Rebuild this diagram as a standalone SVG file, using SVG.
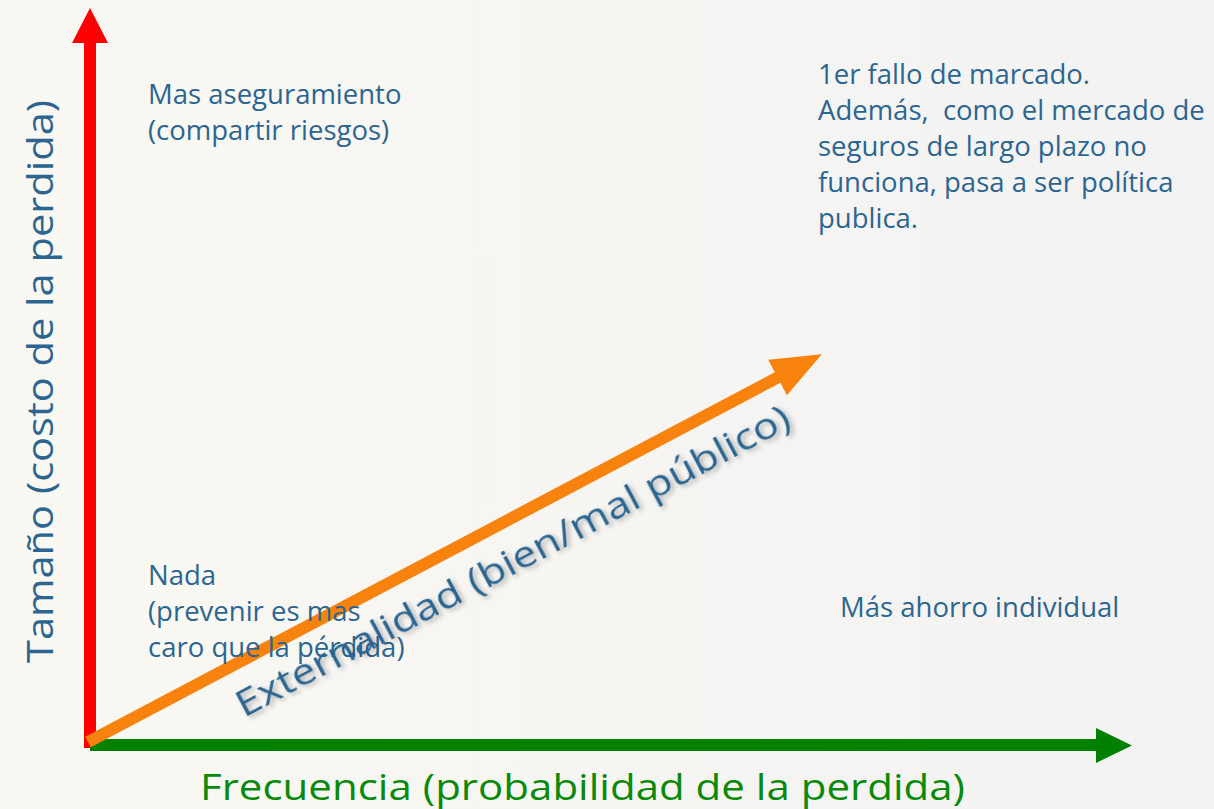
<svg xmlns="http://www.w3.org/2000/svg" width="1214" height="809" viewBox="0 0 1214 809">
<defs>
<linearGradient id="bg" x1="0" y1="0" x2="1" y2="0">
<stop offset="0" stop-color="#faf8f2"/>
<stop offset="1" stop-color="#f2f2f2"/>
</linearGradient>
<filter id="sh" x="-10%" y="-30%" width="120%" height="160%">
<feDropShadow dx="2" dy="3" stdDeviation="2.5" flood-color="#000" flood-opacity="0.3"/>
</filter>
<style>
.t{font-family:"Open Sans","Noto Sans",sans-serif;fill:#2c6590;font-size:27.5px}
.ax{font-family:"Open Sans","Noto Sans",sans-serif;font-size:36px}
</style>
</defs>
<rect width="1214" height="809" fill="url(#bg)"/>
<g id="connectors">
<path d="M84,748 V43 H72 L90,8 L108,43 H96 V748 Z" fill="#ff0000"/>
<path d="M90,739 H1096 V728 L1132,745.5 L1096,763 V751 H90 Z" fill="#008000"/>
<g transform="translate(88,742) rotate(-27.86)">
<path d="M0,-6 H780 V-20 L830,0 L780,20 V6 H0 Z" fill="#f7820e"/>
</g>
</g>
<g id="y-axis-label"><text class="ax" fill="#2c6590" transform="translate(53,663) rotate(-90)" textLength="563" lengthAdjust="spacingAndGlyphs">Tamaño (costo de la perdida)</text></g>
<g id="x-axis-label"><text class="ax" fill="#0a8a0a" x="200" y="800" textLength="765" lengthAdjust="spacingAndGlyphs">Frecuencia (probabilidad de la perdida)</text></g>
<g id="q-top-left"><text class="t" x="148" y="104">Mas aseguramiento</text><text class="t" x="148" y="140">(compartir riesgos)</text></g>
<g id="q-top-right"><text class="t" x="818" y="84">1er fallo de marcado.</text><text class="t" x="818" y="120" xml:space="preserve">Además,  como el mercado de</text><text class="t" x="818" y="156">seguros de largo plazo no</text><text class="t" x="818" y="192">funciona, pasa a ser política</text><text class="t" x="818" y="228">publica.</text></g>
<g id="q-bottom-left"><text class="t" x="148" y="585">Nada</text><text class="t" x="148" y="621">(prevenir es mas</text><text class="t" x="148" y="657">caro que la pérdida)</text></g>
<g id="q-bottom-right"><text class="t" x="840" y="617">Más ahorro individual</text></g>
<g id="externalidad"><text class="ax" fill="#2c6590" filter="url(#sh)" transform="translate(244,718) rotate(-28)" font-size="43" textLength="622" lengthAdjust="spacingAndGlyphs">Externalidad (bien/mal público)</text></g>
</svg>
